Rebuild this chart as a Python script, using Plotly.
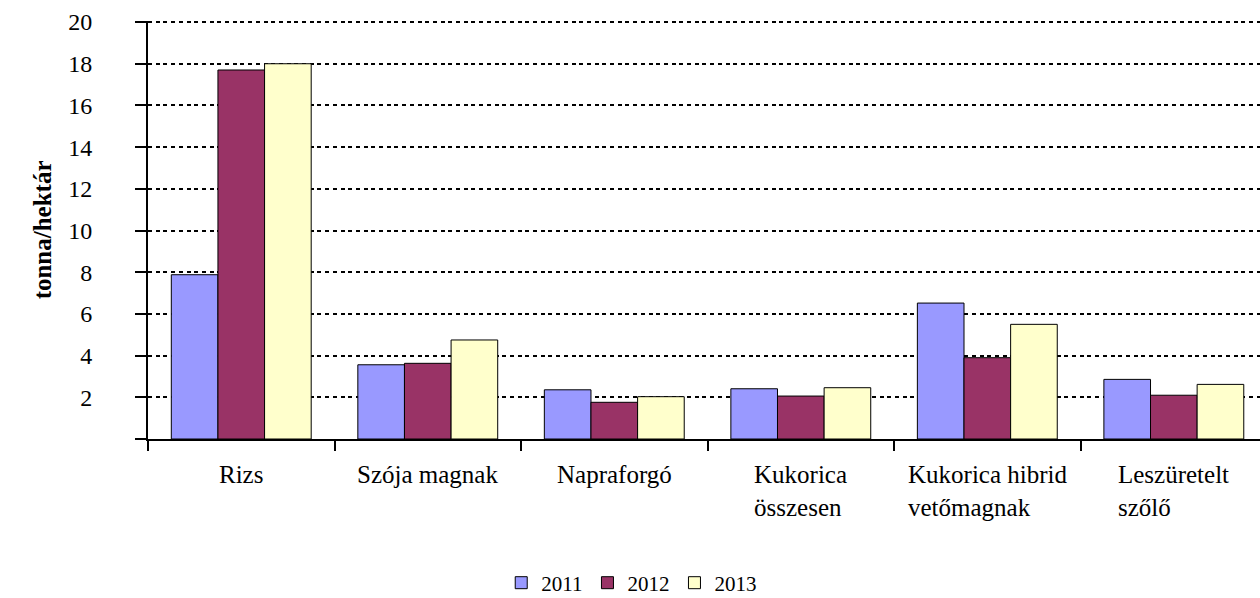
import plotly.graph_objects as go

categories = ["Rizs", "Szója magnak", "Napraforgó", "Kukorica<br>összesen",
              "Kukorica hibrid<br>vetőmagnak", "Leszüretelt<br>szőlő"]
years = ["2011", "2012", "2013"]
y2011 = [7.88, 3.56, 2.36, 2.41, 6.52, 2.86]
y2012 = [17.7, 3.63, 1.76, 2.06, 3.90, 2.10]
y2013 = [18.0, 4.75, 2.03, 2.46, 5.50, 2.62]
colors = ["#9999FF", "#993366", "#FFFFCC"]
yticks = [2, 4, 6, 8, 10, 12, 14, 16, 18, 20]

FONT = "Liberation Serif"

fig = go.Figure()
for name, vals, col in zip(years, [y2011, y2012, y2013], colors):
    fig.add_trace(go.Bar(
        x=categories, y=vals, name=name,
        marker=dict(color=col, line=dict(color="black", width=1)),
    ))

# category labels as annotations so wrapped lines stay left aligned
for c in categories:
    fig.add_annotation(
        x=c, xref="x", y=-0.048, yref="paper",
        text=c, showarrow=False, align="left",
        xanchor="center", yanchor="top",
        font=dict(family=FONT, size=25, color="black"),
    )

fig.add_annotation(
    x=-0.095, xref="paper", y=0.5, yref="paper",
    text="<b>tonna/hektár</b>", textangle=-90, showarrow=False,
    xanchor="center", yanchor="middle",
    font=dict(family=FONT, size=25, color="black"),
)

fig.update_layout(
    template="none",
    width=1260, height=598,
    margin=dict(l=148, r=0, t=21, b=159),
    plot_bgcolor="white", paper_bgcolor="white",
    barmode="group", bargap=0.25, bargroupgap=0,
    font=dict(family=FONT, size=22, color="black"),
    showlegend=True,
    legend=dict(orientation="h", x=0.435, xanchor="center",
                yref="container", y=0.025, yanchor="middle",
                font=dict(family=FONT, size=21, color="black"),
                itemwidth=30, tracegroupgap=0, bgcolor="rgba(0,0,0,0)"),
    xaxis=dict(
        range=[-0.5, 5.462], showticklabels=False, automargin=False,
        ticks="outside", tickson="boundaries", ticklen=10, tickwidth=2,
        tickcolor="black", showline=True, linecolor="black", linewidth=2,
        showgrid=False,
    ),
    yaxis=dict(
        range=[0, 20.05], tickvals=[0] + yticks,
        ticktext=[""] + [str(v) for v in yticks],
        automargin=False,
        ticks="outside", ticklen=11, tickwidth=2, tickcolor="black",
        ticklabelstandoff=38,
        showline=True, linecolor="black", linewidth=2,
        showgrid=True, gridcolor="black", gridwidth=2, griddash="4px,3.7px",
        zeroline=False,
        tickfont=dict(family=FONT, size=24, color="black"),
    ),
)

# the page's default body margin would offset the chart by 8px
fig.write_html("out.html", config={"displayModeBar": False},
               post_script="document.body.style.margin='0';")
